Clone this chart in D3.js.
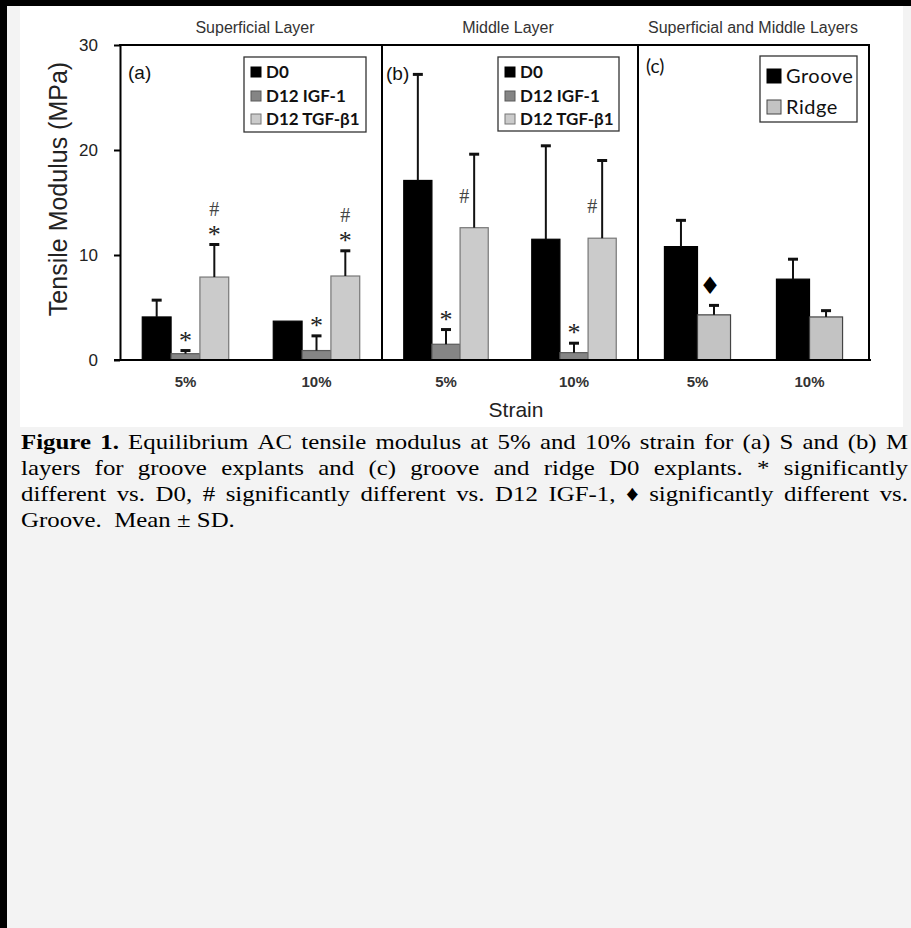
<!DOCTYPE html>
<html>
<head>
<meta charset="utf-8">
<script src="https://cdn.jsdelivr.net/npm/d3@7"></script>
<style>
  body { margin: 0; background: #f3f3f3; }
  svg { display: block; }
</style>
</head>
<body>
<div id="chart"></div>
<script>
// ---- data ----
const strains = ['5%', '10%'];
const treatmentSeries = ['D0', 'D12 IGF-1', 'D12 TGF-β1'];
const regionSeries = ['Groove', 'Ridge'];

// rows = strain, columns = series
const superficialMean = [[4.1, 0.6, 7.9], [3.7, 0.9, 8.0]];
const superficialSD = [[1.6, 0.3, 3.1], [0, 1.4, 2.4]];
const superficialSig = [['', '*', '*#'], ['', '*', '*#']];

const middleMean = [[17.1, 1.5, 12.6], [11.5, 0.7, 11.6]];
const middleSD = [[10.1, 1.4, 7.0], [8.9, 0.9, 7.4]];
const middleSig = [['', '*', '#'], ['', '*', '#']];

const combinedMean = [[10.8, 4.3], [7.7, 4.1]];
const combinedSD = [[2.5, 0.9], [1.9, 0.6]];
const combinedSig = [['', '♦'], ['', '']];

const yTicks = [0, 10, 20, 30];

const captionLines = [
  'Figure 1. Equilibrium AC tensile modulus at 5% and 10% strain for (a) S and (b) M',
  'layers for groove explants and (c) groove and ridge D0 explants. * significantly',
  'different vs. D0, # significantly different vs. D12 IGF-1, ♦ significantly different vs.',
  'Groove.  Mean ± SD.'
];

const width = 911;
const height = 928;

const svg = d3.select('#chart')
  .append('svg')
  .attr('width', width)
  .attr('height', height)
  .attr('viewBox', [0, 0, width, height]);

// page background, white picture area, black frame
svg.append('rect').attr('width', width).attr('height', height).attr('fill', '#f3f3f3');
svg.append('rect').attr('x', 20).attr('y', 6).attr('width', 883).attr('height', 421).attr('fill', '#fff');
svg.append('rect').attr('width', width).attr('height', 6).attr('fill', '#000');
svg.append('rect').attr('width', 7).attr('height', height).attr('fill', '#000');

const y = d3.scaleLinear().domain([0, 30]).range([360, 45]);

const panels = [
  {
    title: 'Superficial Layer', titleX: 255, tag: '(a)', tagX: 128, tagY: 79, tagFont: 'Arial, Liberation Sans, sans-serif',
    left: 120, right: 382, pad: [0.34, 0.17],
    series: treatmentSeries, mean: superficialMean, sd: superficialSD, sig: superficialSig,
    fill: ['#000', '#858585', '#cbcbcb'], stroke: ['#000', '#5a5a5a', '#777'],
    legend: { x: 244, y: 57, w: 122, h: 75, rows: [72, 96, 119], sq: 10, font: 17, weight: 700, spacing: 0 }
  },
  {
    title: 'Middle Layer', titleX: 508, tag: '(b)', tagX: 386, tagY: 80, tagFont: 'Arial, Liberation Sans, sans-serif',
    left: 382, right: 638, pad: [0.34, 0.17],
    series: treatmentSeries, mean: middleMean, sd: middleSD, sig: middleSig, hashBeside: true,
    fill: ['#000', '#858585', '#cbcbcb'], stroke: ['#000', '#5a5a5a', '#777'],
    legend: { x: 498, y: 57, w: 121, h: 74, rows: [72, 96, 119], sq: 10, font: 17, weight: 700, spacing: 0 }
  },
  {
    title: 'Superficial and Middle Layers', titleX: 753, tag: '(c)', tagX: 646, tagY: 73, tagFont: 'Lato, sans-serif',
    left: 638, right: 869, pad: [0.41, 0.236],
    series: regionSeries, mean: combinedMean, sd: combinedSD, sig: combinedSig,
    fill: ['#000', '#c3c3c3'], stroke: ['#000', '#444'],
    legend: { x: 760, y: 56, w: 97, h: 66, rows: [76, 107], sq: 14, font: 20, weight: 400, spacing: 0.5 }
  }
];

panels.forEach(p => {
  const g = svg.append('g');
  const x0 = d3.scaleBand().domain(strains).range([p.left, p.right])
    .paddingInner(p.pad[0]).paddingOuter(p.pad[1]);
  const x1 = d3.scaleBand().domain(p.series).range([0, x0.bandwidth()]);

  const rows = [];
  strains.forEach((s, i) => p.series.forEach((k, j) => {
    rows.push({ s, k, j, m: p.mean[i][j], sd: p.sd[i][j], sig: p.sig[i][j] });
  }));
  const cx = d => x0(d.s) + x1(d.k) + x1.bandwidth() / 2;

  g.selectAll('rect.bar')
    .data(rows)
    .join('rect')
    .attr('class', 'bar')
    .attr('x', d => x0(d.s) + x1(d.k))
    .attr('y', d => y(d.m))
    .attr('width', x1.bandwidth())
    .attr('height', d => y(0) - y(d.m))
    .attr('fill', d => p.fill[d.j])
    .attr('stroke', d => p.stroke[d.j])
    .attr('stroke-width', 1.2);

  const err = rows.filter(d => d.sd > 0);
  g.selectAll('line.err')
    .data(err)
    .join('line')
    .attr('x1', cx).attr('x2', cx)
    .attr('y1', d => y(d.m)).attr('y2', d => y(d.m + d.sd))
    .attr('stroke', '#111').attr('stroke-width', 2);
  g.selectAll('line.cap')
    .data(err)
    .join('line')
    .attr('x1', d => cx(d) - 5).attr('x2', d => cx(d) + 5)
    .attr('y1', d => y(d.m + d.sd)).attr('y2', d => y(d.m + d.sd))
    .attr('stroke', '#111').attr('stroke-width', 3);

  // significance marks
  rows.filter(d => d.sig).forEach(d => {
    const top = y(d.m + d.sd);
    let stack = 0;
    d.sig.split('').forEach(ch => {
      if (ch === '*') {
        g.append('text').attr('x', cx(d)).attr('y', top - 13 - stack + 11)
          .attr('text-anchor', 'middle').attr('font-family', 'Liberation Serif, serif')
          .attr('font-size', 26).attr('fill', '#222').text('*');
        stack += 23;
      } else if (ch === '#') {
        const hx = p.hashBeside ? cx(d) - 10 : cx(d);
        const hy = p.hashBeside ? y(d.m) - 32 : top - 13 - stack;
        g.append('text').attr('x', hx).attr('y', hy + 7)
          .attr('text-anchor', 'middle').attr('font-family', 'Liberation Serif, serif')
          .attr('font-size', 20).attr('fill', '#444').text('#');
      } else {
        g.append('text').attr('x', cx(d) - 4).attr('y', top - 19 + 8)
          .attr('text-anchor', 'middle').attr('font-family', 'DejaVu Sans, sans-serif')
          .attr('font-size', 24).attr('fill', '#000').text(ch);
      }
    });
  });

  // x labels
  const xAxis = d3.axisBottom(x0).tickSize(0).tickPadding(16);
  const ax = svg.append('g').attr('transform', `translate(0,${y(0)})`).call(xAxis);
  ax.select('.domain').remove();
  ax.selectAll('text')
    .attr('font-family', 'Arial, Liberation Sans, sans-serif')
    .attr('font-size', 15).attr('font-weight', 700).attr('fill', '#333');

  // title and tag
  svg.append('text').attr('x', p.titleX).attr('y', 33).attr('text-anchor', 'middle')
    .attr('font-family', 'Arial, Liberation Sans, sans-serif').attr('font-size', 16)
    .attr('fill', '#333').text(p.title);
  svg.append('text').attr('x', p.tagX).attr('y', p.tagY)
    .attr('font-family', p.tagFont).attr('font-size', 19).attr('fill', '#111').text(p.tag);

  // legend
  const L = p.legend;
  const lg = svg.append('g');
  lg.append('rect').attr('x', L.x).attr('y', L.y).attr('width', L.w).attr('height', L.h)
    .attr('fill', '#fff').attr('stroke', '#333').attr('stroke-width', 1.3);
  p.series.forEach((k, j) => {
    lg.append('rect').attr('x', L.x + 7).attr('y', L.rows[j] - L.sq / 2)
      .attr('width', L.sq).attr('height', L.sq)
      .attr('fill', p.fill[j]).attr('stroke', p.stroke[j]).attr('stroke-width', 1);
    lg.append('text').attr('x', L.x + 7 + L.sq + 5).attr('y', L.rows[j] + L.font * 0.36)
      .attr('font-family', 'Lato, sans-serif').attr('font-size', L.font)
      .attr('font-weight', L.weight).attr('letter-spacing', L.spacing)
      .attr('fill', '#111').text(k);
  });
});

// frame lines
const frame = svg.append('g').attr('stroke', '#000').attr('stroke-width', 2);
frame.append('line').attr('x1', 119).attr('x2', 870).attr('y1', y(30)).attr('y2', y(30));
[382, 638, 869].forEach(xv => {
  frame.append('line').attr('x1', xv).attr('x2', xv).attr('y1', y(30)).attr('y2', y(0));
});
frame.append('line').attr('x1', 114).attr('x2', 871).attr('y1', y(0)).attr('y2', y(0));

// y axis
const yAxis = g => g.attr('transform', 'translate(120,0)')
  .call(d3.axisLeft(y).tickValues(yTicks).tickSize(6).tickSizeOuter(0).tickPadding(16))
  .call(g => g.selectAll('path, line').attr('stroke', '#000').attr('stroke-width', 2))
  .call(g => g.selectAll('text').attr('font-family', 'Arial, Liberation Sans, sans-serif')
    .attr('font-size', 17).attr('fill', '#222'));
svg.append('g').call(yAxis);

svg.append('text').attr('transform', 'translate(67,189) rotate(-90)').attr('text-anchor', 'middle')
  .attr('font-family', 'Arial, Liberation Sans, sans-serif').attr('font-size', 25)
  .attr('fill', '#222').text('Tensile Modulus (MPa)');
svg.append('text').attr('x', 516).attr('y', 417).attr('text-anchor', 'middle')
  .attr('font-family', 'Arial, Liberation Sans, sans-serif').attr('font-size', 21)
  .attr('fill', '#222').text('Strain');

// caption, justified like the source document
const sx = 1.13, capLeft = 21, capRight = 908, capFont = 22;
const cap = svg.append('g').attr('font-family', 'Liberation Serif, Times New Roman, serif')
  .attr('font-size', capFont).attr('fill', '#000');
const probe = cap.append('text');
const measure = (t, bold) => {
  probe.attr('font-weight', bold ? 700 : 400).text(t);
  return probe.node().getComputedTextLength() * sx;
};
captionLines.forEach((line, li) => {
  const base = 449 + li * 26;
  if (li === captionLines.length - 1) {
    cap.append('text').attr('transform', `translate(${capLeft},${base}) scale(${sx},1)`)
      .style('white-space', 'pre').text(line);
    return;
  }
  const words = line.split(' ');
  const bold = words.map((w, i) => li === 0 && i < 2);
  const widths = words.map((w, i) => measure(w, bold[i]));
  const gap = (capRight - capLeft - d3.sum(widths)) / (words.length - 1);
  let xPos = capLeft;
  words.forEach((w, i) => {
    cap.append('text').attr('transform', `translate(${xPos},${base}) scale(${sx},1)`)
      .attr('font-weight', bold[i] ? 700 : 400).text(w);
    xPos += widths[i] + gap;
  });
});
probe.remove();
</script>
</body>
</html>
